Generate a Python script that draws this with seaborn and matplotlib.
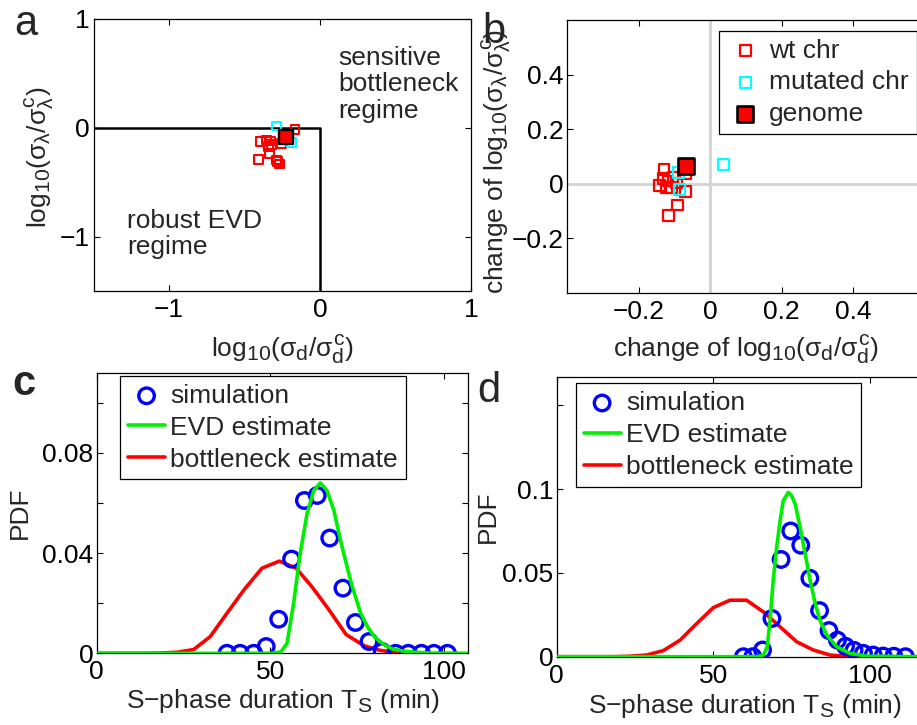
import matplotlib
matplotlib.use('Agg')
import matplotlib.pyplot as plt
import seaborn as sns

try:
    import matplotlib._mathtext as _mt
    _mt.SHRINK_FACTOR = 0.8  # MATLAB-like larger sub/superscripts
except Exception:
    pass

# ---- panel a: regime diagram ----
a_wt_x = [-0.166, -0.393, -0.353, -0.342, -0.408, -0.336, -0.287, -0.270, -0.280, -0.254, -0.330, -0.320]
a_wt_y = [-0.012, -0.126, -0.110, -0.171, -0.287, -0.232, -0.294, -0.330, -0.310, -0.140, -0.120, -0.150]
a_mut_x = [-0.287, -0.187]
a_mut_y = [0.018, -0.135]
a_gen_x = [-0.225]
a_gen_y = [-0.080]

# ---- panel b: change after mutation ----
b_wt_x = [-0.129, -0.132, -0.141, -0.118, -0.109, -0.123, -0.068, -0.068, -0.091, -0.117, -0.104, -0.095]
b_wt_y = [0.053, 0.020, -0.006, 0.010, -0.015, -0.015, 0.037, -0.029, -0.078, -0.116, 0.022, 0.002]
b_mut_x = [-0.089, -0.086, 0.037]
b_mut_y = [0.040, -0.021, 0.071]
b_gen_x = [-0.068]
b_gen_y = [0.065]

# ---- panel c: S-phase duration PDF ----
c_sim_x = [37.5, 41.3, 45.2, 48.8, 52.4, 56.1, 59.8, 63.5, 67.1, 70.9, 74.5, 78.4, 82.2, 86.1, 89.7, 93.5, 97.1, 101.0]
c_sim_y = [0, 0, 0, 0.0027, 0.0136, 0.0376, 0.061, 0.063, 0.046, 0.026, 0.0123, 0.0047, 0.0007, 0, 0, 0, 0, 0]
c_evd_x = [0, 50, 53, 54.8, 56.7, 58.6, 60.6, 62.5, 64.4, 66.3, 68.3, 70.2, 72.0, 73.5, 76.0, 78.0, 80.0, 82.7, 85.0, 88.0, 92.0, 96.0, 107]
c_evd_y = [0, 0, 0.0005, 0.004, 0.020, 0.040, 0.056, 0.065, 0.068, 0.065, 0.057, 0.045, 0.035, 0.027, 0.016, 0.0105, 0.0065, 0.0035, 0.0018, 0.0009, 0.0004, 0.0001, 0]
c_bot_x = [0, 13.5, 18.3, 23.1, 27.9, 32.7, 37.5, 42.5, 47.6, 52.6, 57.4, 62.0, 66.8, 71.8, 77.0, 81.5, 86.0, 90.8, 95.6]
c_bot_y = [0, 0, 0.0001, 0.0004, 0.0015, 0.0067, 0.016, 0.0255, 0.034, 0.0368, 0.034, 0.0265, 0.0175, 0.0075, 0.003, 0.0012, 0.0004, 0.0001, 0]

# ---- panel d ----
d_sim_x = [59.6, 62.6, 65.7, 68.7, 71.6, 74.7, 77.9, 80.8, 83.9, 86.9, 89.6, 92.2, 94.9, 97.9, 101.0, 104.2, 107.6, 111.3]
d_sim_y = [0, 0, 0.004, 0.0228, 0.058, 0.075, 0.0665, 0.0468, 0.0275, 0.0156, 0.0099, 0.0062, 0.0038, 0.002, 0.001, 0.0004, 0.0003, 0]
d_evd_x = [0, 63.8, 66.0, 67.2, 68.1, 69.1, 70.2, 71.3, 72.3, 73.9, 75.0, 76.1, 77.7, 79.3, 80.9, 82.5, 84.0, 86.2, 89.4, 93.6, 98.9, 120]
d_evd_y = [0, 0, 0.001, 0.006, 0.0218, 0.0455, 0.0653, 0.0812, 0.093, 0.098, 0.096, 0.091, 0.0772, 0.0614, 0.0455, 0.0317, 0.0218, 0.0129, 0.0059, 0.002, 0.0003, 0]
d_bot_x = [0, 12.8, 18.1, 23.4, 28.7, 34.0, 39.4, 44.7, 50.0, 55.3, 60.6, 66.0, 71.3, 76.6, 81.9, 87.2, 92.5, 97.8]
d_bot_y = [0, 0, 0, 0.0003, 0.001, 0.0036, 0.0099, 0.0198, 0.0293, 0.0337, 0.0337, 0.0267, 0.0178, 0.0089, 0.004, 0.001, 0.0002, 0]

sns.set_style('ticks')
plt.rcParams['font.family'] = ['Liberation Sans', 'DejaVu Sans']
plt.rcParams['mathtext.fontset'] = 'custom'
plt.rcParams['mathtext.rm'] = 'Liberation Sans'
plt.rcParams['mathtext.it'] = 'Liberation Sans'
plt.rcParams['mathtext.bf'] = 'Liberation Sans:bold'
plt.rcParams['axes.linewidth'] = 0.9
plt.rcParams['axes.edgecolor'] = 'black'

FS = 19

fig = plt.figure(figsize=(9.17, 7.25), dpi=100)
ax_a = fig.add_axes([0.102, 0.598, 0.4117, 0.3759])
ax_b = fig.add_axes([0.6183, 0.5963, 0.3904, 0.3761])
ax_c = fig.add_axes([0.1055, 0.0989, 0.4052, 0.387])
ax_d = fig.add_axes([0.6071, 0.0942, 0.41, 0.3862])

for ax in [ax_a, ax_b, ax_c, ax_d]:
    ax.tick_params(direction='in', top=True, right=True, length=4, width=0.8,
                   labelsize=FS, colors='black')
    ax.tick_params(axis='x', pad=5)
    ax.tick_params(axis='y', pad=2.5)
    for s in ax.spines.values():
        s.set_visible(True)
        s.set_color('black')

# ---------- a ----------
ax_a.plot([-1.5, 0, 0], [0, 0, -1.5], color='black', lw=1.8)
sns.scatterplot(x=a_wt_x, y=a_wt_y, ax=ax_a, marker='s', s=40, facecolors='none',
                edgecolor='red', linewidth=1.5, zorder=3)
sns.scatterplot(x=a_mut_x, y=a_mut_y, ax=ax_a, marker='s', s=40, facecolors='none',
                edgecolor='cyan', linewidth=1.5, zorder=3)
sns.scatterplot(x=a_gen_x, y=a_gen_y, ax=ax_a, marker='s', s=95, color='red',
                edgecolor='black', linewidth=1.7, zorder=4)
ax_a.set_xlim(-1.5, 1)
ax_a.set_ylim(-1.5, 1)
ax_a.set_xticks([-1, 0, 1])
ax_a.set_yticks([-1, 0, 1])
ax_a.text(0.12, 0.75, 'sensitive\nbottleneck\nregime', fontsize=FS, va='top',
          ha='left', linespacing=1.12)
ax_a.text(-1.28, -0.74, 'robust EVD\nregime', fontsize=FS, va='top', ha='left',
          linespacing=1.12)
ax_a.set_xlabel(r'log$_{10}$($\sigma_d$/$\sigma_d^c$)', fontsize=FS)
ax_a.set_ylabel(r'log$_{10}$($\sigma_\lambda$/$\sigma_\lambda^c$)', fontsize=FS)
ax_a.xaxis.set_label_coords(0.5, -0.15)
ax_a.yaxis.set_label_coords(-0.1, 0.494)

# ---------- b ----------
ax_b.axhline(0, color='#d4d4d4', lw=2, zorder=1)
ax_b.axvline(0, color='#d4d4d4', lw=2, zorder=1)
sns.scatterplot(x=b_wt_x, y=b_wt_y, ax=ax_b, marker='s', s=60, facecolors='none',
                edgecolor='red', linewidth=1.6, zorder=3, label='wt chr')
sns.scatterplot(x=b_mut_x, y=b_mut_y, ax=ax_b, marker='s', s=60, facecolors='none',
                edgecolor='cyan', linewidth=1.6, zorder=3, label='mutated chr')
sns.scatterplot(x=b_gen_x, y=b_gen_y, ax=ax_b, marker='s', s=130, color='red',
                edgecolor='black', linewidth=1.9, zorder=4, label='genome')
ax_b.set_xlim(-0.4, 0.6)
ax_b.set_ylim(-0.4, 0.6)
ax_b.set_xticks([-0.2, 0, 0.2, 0.4])
ax_b.set_yticks([-0.2, 0, 0.2, 0.4])
ax_b.set_xticklabels(['\u22120.2', '0', '0.2', '0.4'])
ax_b.set_yticklabels(['\u22120.2', '0', '0.2', '0.4'])
ax_b.set_xlabel(r'change of log$_{10}$($\sigma_d$/$\sigma_d^c$)', fontsize=FS)
ax_b.set_ylabel(r'change of log$_{10}$($\sigma_\lambda$/$\sigma_\lambda^c$)', fontsize=FS)
ax_b.xaxis.set_label_coords(0.5, -0.145)
ax_b.yaxis.set_label_coords(-0.151, 0.48)
leg = ax_b.legend(loc='upper left', bbox_to_anchor=(0.4246, 0.961), borderaxespad=0,
                  fontsize=FS, frameon=True, fancybox=False, framealpha=1,
                  edgecolor='black', handlelength=1.4, handletextpad=0.2,
                  borderpad=0.3, labelspacing=0.3)
leg.get_frame().set_linewidth(0.9)


def pdf_panel(ax, sx, sy, ex, ey, bx, by):
    sns.lineplot(x=bx, y=by, ax=ax, color='#ff0000', lw=2.6, sort=False,
                 estimator=None, label='bottleneck estimate', zorder=2)
    sns.scatterplot(x=sx, y=sy, ax=ax, marker='o', s=125, facecolors='none',
                    edgecolor='#0000ff', linewidth=2.4, label='simulation', zorder=3)
    sns.lineplot(x=ex, y=ey, ax=ax, color='#00ee00', lw=2.6, sort=False,
                 estimator=None, label='EVD estimate', zorder=4)
    h, l = ax.get_legend_handles_labels()
    order = [l.index('simulation'), l.index('EVD estimate'), l.index('bottleneck estimate')]
    return [h[i] for i in order], [l[i] for i in order]


# ---------- c ----------
h, l = pdf_panel(ax_c, c_sim_x, c_sim_y, c_evd_x, c_evd_y, c_bot_x, c_bot_y)
ax_c.set_xlim(0, 107)
ax_c.set_ylim(0, 0.112)
ax_c.set_xticks([0, 50, 100])
ax_c.set_yticks([0, 0.02, 0.04, 0.06, 0.08, 0.1])
ax_c.set_yticklabels(['0', '', '0.04', '', '0.08', ''])
ax_c.set_xlabel('S\u2212phase duration T$_S$ (min)', fontsize=FS)
ax_c.set_ylabel('PDF', fontsize=FS)
ax_c.xaxis.set_label_coords(0.5, -0.12)
ax_c.yaxis.set_label_coords(-0.174, 0.5)
leg = ax_c.legend(h, l, loc='upper left', bbox_to_anchor=(0.063, 0.989), borderaxespad=0,
                  fontsize=FS, frameon=True, fancybox=False, framealpha=1,
                  edgecolor='black', handlelength=1.4, handletextpad=0.2,
                  borderpad=0.3, labelspacing=0.3)
leg.get_frame().set_linewidth(0.9)

# ---------- d ----------
h, l = pdf_panel(ax_d, d_sim_x, d_sim_y, d_evd_x, d_evd_y, d_bot_x, d_bot_y)
ax_d.set_xlim(0, 120)
ax_d.set_ylim(0, 0.167)
ax_d.set_xticks([0, 50, 100])
ax_d.set_yticks([0, 0.05, 0.1, 0.15])
ax_d.set_yticklabels(['0', '0.05', '0.1', ''])
ax_d.set_xlabel('S\u2212phase duration T$_S$ (min)', fontsize=FS)
ax_d.set_ylabel('PDF', fontsize=FS)
ax_d.xaxis.set_label_coords(0.5, -0.125)
ax_d.yaxis.set_label_coords(-0.151, 0.5)
leg = ax_d.legend(h, l, loc='upper left', bbox_to_anchor=(0.0505, 0.9775), borderaxespad=0,
                  fontsize=FS, frameon=True, fancybox=False, framealpha=1,
                  edgecolor='black', handlelength=1.4, handletextpad=0.2,
                  borderpad=0.3, labelspacing=0.3)
leg.get_frame().set_linewidth(0.9)

# panel letters
fig.text(0.015, 0.952, 'a', fontsize=30, va='baseline')
fig.text(0.526, 0.941, 'b', fontsize=30, va='baseline')
fig.text(0.014, 0.455, 'c', fontsize=30, va='baseline', fontweight='bold')
fig.text(0.52, 0.445, 'd', fontsize=30, va='baseline')

fig.savefig('out.png', dpi=100)
